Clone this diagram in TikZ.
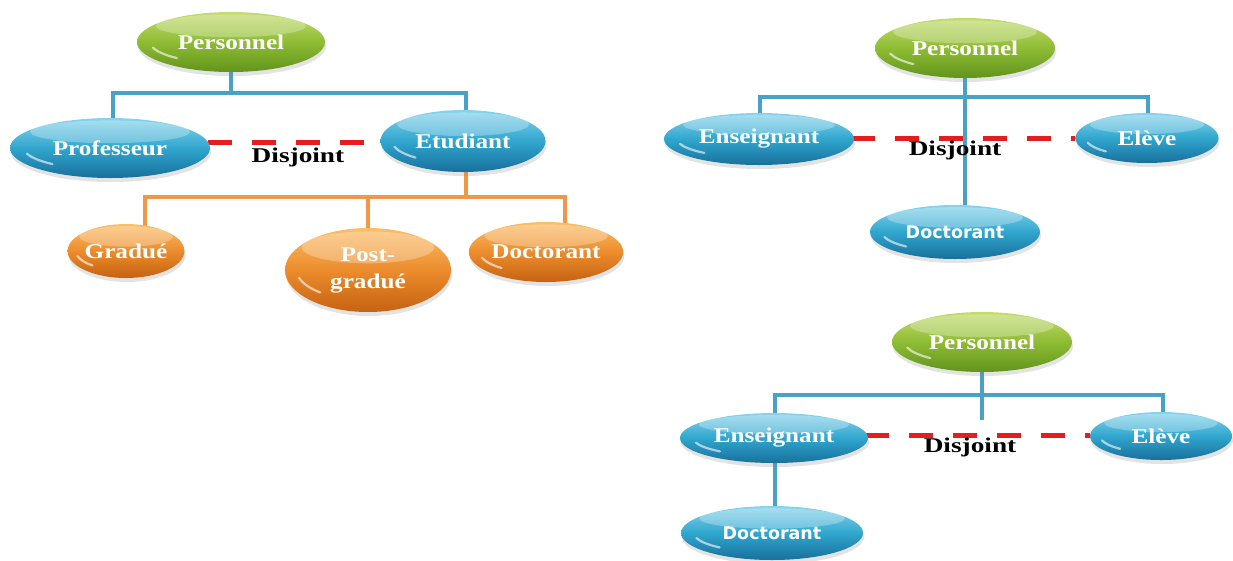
\documentclass[tikz,border=0pt]{standalone}
\usepackage{fontspec}
\newfontfamily\lblserif[FakeStretch=1.2]{Liberation Serif}
\newfontfamily\lblwide[FakeStretch=1.3]{Liberation Serif}
\newfontfamily\lblsans{DejaVu Sans}
\usetikzlibrary{shapes.geometric,shadows,calc,backgrounds}

\definecolor{bluetop}{RGB}{135,212,236}
\definecolor{bluemid}{RGB}{48,166,206}
\definecolor{bluebot}{RGB}{24,112,156}
\definecolor{greentop}{RGB}{196,220,110}
\definecolor{greenmid}{RGB}{142,188,52}
\definecolor{greenbot}{RGB}{98,148,28}
\definecolor{orangetop}{RGB}{252,190,105}
\definecolor{orangemid}{RGB}{236,140,44}
\definecolor{orangebot}{RGB}{198,98,18}
\definecolor{linkblue}{RGB}{72,162,200}
\definecolor{linkorange}{RGB}{240,152,72}
\definecolor{disjred}{RGB}{226,30,30}

\tikzset{
  pill/.style={ellipse, inner sep=0pt, text=white,
    font=\lblserif\bfseries\fontsize{21}{27}\selectfont,
    drop shadow={shadow xshift=1pt, shadow yshift=-4pt, opacity=0.22},
    path picture={
      % glossy band on the upper half
      \fill[white,opacity=.28]
        let \p1=(path picture bounding box.south west),
            \p2=(path picture bounding box.north east) in
        (\x1*0.5+\x2*0.5, \y2*0.77+\y1*0.23)
        ellipse [x radius={(\x2-\x1)*0.40}, y radius={(\y2-\y1)*0.19}];
      % small reflection on the lower left rim
      \draw[white,opacity=.6,line width=2.2pt,line cap=round]
        let \p1=(path picture bounding box.south west),
            \p2=(path picture bounding box.north east),
            \n1={(\x2-\x1)*0.5*0.86}, \n2={(\y2-\y1)*0.5*0.72} in
        ({\x1*0.5+\x2*0.5+\n1*cos(195)}, {\y1*0.5+\y2*0.5+\n2*sin(195)})
        arc [start angle=195, end angle=228, x radius=\n1, y radius=\n2];
    }},
  bluepill/.style={pill, top color=bluetop, bottom color=bluebot, middle color=bluemid},
  greenpill/.style={pill, top color=greentop, bottom color=greenbot, middle color=greenmid},
  orangepill/.style={pill, top color=orangetop, bottom color=orangebot, middle color=orangemid},
  sanslabel/.style={font=\lblsans\bfseries\fontsize{17.5}{20}\selectfont},
  bluelink/.style={draw=linkblue, line width=3.6pt},
  orangelink/.style={draw=linkorange, line width=3.6pt},
  disjline/.style={draw=disjred, line width=5pt, dash pattern=on 24pt off 20pt},
  disjtext/.style={font=\lblwide\bfseries\fontsize{21}{24}\selectfont, text=black, inner sep=0pt},
}

\begin{document}
\begin{tikzpicture}[x=1pt, y=-1pt]
\useasboundingbox (0,0) rectangle (1233,560);

% ---------- first hierarchy ----------
\node[greenpill, minimum width=188, minimum height=60] (persA) at (231,42) {Personnel};
\node[bluepill, minimum width=200, minimum height=60] (prof) at (110,148) {Professeur};
\node[bluepill, minimum width=165, minimum height=62] (etud) at (463,141) {Etudiant};
\node[orangepill, minimum width=112, minimum height=54] (grad) at (126,251) {Gradué};
\node[orangepill, minimum width=166, minimum height=84, align=center] (postg) at (368,270) {Post-\\gradué};
\node[orangepill, minimum width=148, minimum height=60] (docA) at (546,252) {Doctorant};
\coordinate (busA) at (231,93);
\coordinate (busO) at (466,197);
\coordinate (dashA) at (0,142);

% ---------- second hierarchy ----------
\node[greenpill, minimum width=180, minimum height=60] (persB) at (965,48) {Personnel};
\node[bluepill, minimum width=190, minimum height=52] (ensB) at (759,139) {Enseignant};
\node[bluepill, minimum width=143, minimum height=50] (eleB) at (1147,138) {Elève};
\node[bluepill, sanslabel, minimum width=170, minimum height=54] (docB) at (955,232) {Doctorant};
\coordinate (busB) at (965,97);
\coordinate (dashB) at (0,138);

% ---------- third hierarchy ----------
\node[greenpill, minimum width=180, minimum height=60] (persC) at (982,342) {Personnel};
\node[bluepill, minimum width=188, minimum height=50] (ensC) at (774,438) {Enseignant};
\node[bluepill, minimum width=142, minimum height=48] (eleC) at (1161,436) {Elève};
\node[bluepill, sanslabel, minimum width=182, minimum height=54] (docC) at (772,533) {Doctorant};
\coordinate (busC) at (982,395);
\coordinate (stubC) at (982,420);
\coordinate (dashC) at (0,435);

% ---------- connectors ----------
\begin{scope}[on background layer]
  % first hierarchy
  \draw[bluelink] (persA.center) -- (busA);
  \draw[bluelink] ([xshift=3pt]prof.center) |- (busA) -| ([xshift=3pt]etud.center);
  \draw[orangelink] ([xshift=3pt]etud.center) -- (busO);
  \draw[orangelink] ([xshift=19pt]grad.center) |- (busO) -| ([xshift=19pt]docA.center);
  \draw[orangelink] (postg.center) -- (postg.center |- busO);
  \draw[disjline] ([xshift=-2pt]prof.east |- dashA) -- (etud.west |- dashA);
  % second hierarchy
  \draw[bluelink] (persB.center) -- (busB) -- ([xshift=10pt]docB.center);
  \draw[bluelink] ([xshift=1pt]ensB.center) |- (busB) -| ([xshift=1pt]eleB.center);
  \draw[disjline] ([xshift=-3pt]ensB.east |- dashB) -- (eleB.west |- dashB);
  % third hierarchy
  \draw[bluelink] (persC.center) -- (busC) -- (stubC);
  \draw[bluelink] ([xshift=1pt]ensC.center) |- (busC) -| ([xshift=2pt]eleC.center);
  \draw[bluelink] ([xshift=1pt]ensC.center) -- ([xshift=3pt]docC.center);
  \draw[disjline] ([xshift=-3pt]ensC.east |- dashC) -- (eleC.west |- dashC);
\end{scope}

% ---------- "Disjoint" labels over the dashed links ----------
\node[disjtext] (disjA) at (298,157) {Disjoint};
\node[disjtext] (disjB) at (955,150) {Disjoint};
\node[disjtext] (disjC) at (970,447) {Disjoint};
\end{tikzpicture}
\end{document}
